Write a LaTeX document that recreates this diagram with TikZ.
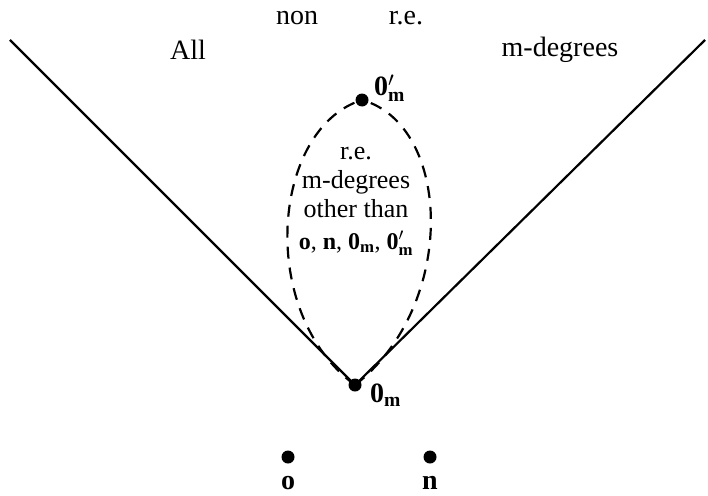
\documentclass[tikz,border=0pt]{standalone}
\usepackage{amsmath}
\usepackage{fontspec}
\setmainfont{Liberation Serif}
\newcommand{\bz}{\textbf{0}}
\newcommand{\bm}{\text{\textbf{m}}}
\begin{document}
\begin{tikzpicture}[x=1pt,y=-1pt,
  lbl/.style={font=\fontsize{28}{30}\selectfont, inner sep=0pt},
  bl/.style={font=\fontsize{28}{30}\selectfont\bfseries, inner sep=0pt},
  dotpt/.style={circle, fill=black, inner sep=0pt, minimum size=13pt},
  solidline/.style={line width=2.2pt},
  lens/.style={line width=2.2pt, dash pattern=on 12pt off 9pt}]
\useasboundingbox (0,0) rectangle (708,495);
% points
\node[dotpt] (bot) at (355,385) {};
\node[dotpt] (top) at (362,100) {};
\node[dotpt] (o) at (288,457) {};
\node[dotpt] (n) at (430,457) {};
\coordinate (lend) at (10,40);
\coordinate (rend) at (705,40);
% lines
\draw[solidline] (lend) -- (bot.center) -- (rend);
% lens
\draw[lens] (bot.center) .. controls (256,312) and (272,128) .. (top.center);
\draw[lens] (bot.center) .. controls (458,305) and (452,125) .. (top.center);
% labels
\node[lbl] (non) at (297,18) {non};
\node[lbl] (re) at (406,18) {r.e.};
\node[lbl] (all) at (188,50) {All};
\node[lbl] (mdeg) at (560,50) {m-degrees};
\node[lbl, align=center, font=\fontsize{26}{29}\selectfont] (inner) at (356,182)
  {r.e.\\m-degrees\\other than};
\node[lbl, font=\fontsize{24}{26}\selectfont] (innerlast) at (356,243)
  {\textbf{o}, \textbf{n}, \bz$_{\bm}$, \bz$'_{\bm}$};
\node[lbl, anchor=west] (toplab) at (374,88) {\bz$'_{\bm}$};
\node[lbl, anchor=west] (botlab) at (370,395) {\bz$_{\bm}$};
\node[bl] (olab) at (288,483) {o};
\node[bl] (nlab) at (430,483) {n};
\end{tikzpicture}
\end{document}
